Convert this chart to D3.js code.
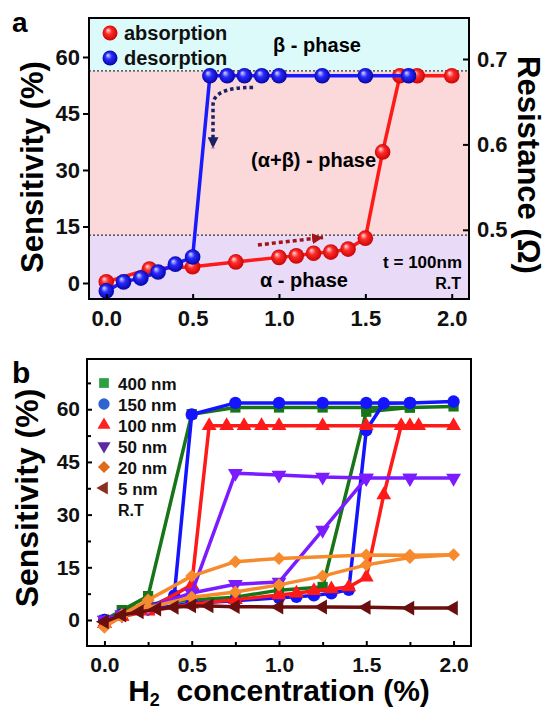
<!DOCTYPE html>
<html lang="en">
<head>
<meta charset="utf-8">
<title>H2 sensitivity</title>
<script src="https://cdn.jsdelivr.net/npm/d3@7"></script>
<style>
  body { margin: 0; background: #fff; }
  svg text { font-family: "Liberation Sans", Arial, Helvetica, sans-serif; font-weight: bold; }
</style>
</head>
<body>
<script>
// ---------- data, panel a (t = 100 nm) ----------
var conc_abs = [0, 0.25, 0.5, 0.75, 1.0, 1.1, 1.2, 1.3, 1.4, 1.5, 1.6, 1.7, 1.8, 2.0];
var sens_abs = [0.3, 3.7, 4.3, 5.6, 6.8, 7.2, 7.9, 8.2, 9.0, 11.9, 34.8, 55, 55, 55];
var conc_des = [0, 0.1, 0.2, 0.3, 0.4, 0.5, 0.6, 0.7, 0.8, 0.9, 1.0, 1.25, 1.5, 1.75];
var sens_des = [-2.1, 0.3, 1.3, 2.9, 5.0, 6.9, 55, 55, 55, 55, 55, 55, 55, 55];
var phase_bounds = [12.7, 56.3];   // alpha / alpha+beta / beta limits
var ticksA_x = [0, 0.5, 1.0, 1.5, 2.0];
var ticksA_y = [0, 15, 30, 45, 60];
var ticksA_r = [0.5, 0.6, 0.7];

// ---------- data, panel b (thickness series) ----------
var thick = ["400 nm", "150 nm", "100 nm", "50 nm", "20 nm", "5 nm"];
var x400 = [0, 0.1, 0.25, 0.5, 0.75, 1.0, 1.25, 1.5, 1.75, 2.0, 1.75, 1.5, 1.25, 1.0, 0.75, 0.5, 0.25, 0.1, 0];
var y400 = [0, 2.8, 4.5, 5.7, 6.5, 8.5, 9.4, 59.3, 60.5, 60.8, 60.5, 60.5, 60.5, 60.5, 60.5, 58.6, 6.8, 2.8, 0];
var x150 = [0, 0.1, 0.25, 0.5, 0.75, 1.0, 1.1, 1.2, 1.3, 1.4, 1.5, 1.6, 1.75, 2.0, 1.75, 1.5, 1.25, 1.0, 0.75, 0.5, 0.4, 0.25, 0.1, 0];
var y150 = [0, 1.5, 3.0, 4.8, 5.5, 6.3, 6.6, 7.0, 7.6, 8.6, 54, 61.7, 61.8, 62.2, 61.8, 61.8, 61.8, 61.8, 61.8, 58.5, 7.0, 3.5, 1.5, 0];
var x100 = [0, 0.1, 0.25, 0.5, 0.75, 1.0, 1.1, 1.2, 1.3, 1.4, 1.5, 1.6, 1.7, 1.75, 1.8, 2.0, 1.5, 1.25, 1.0, 0.9, 0.8, 0.7, 0.6, 0.5, 0.25, 0.1, 0];
var y100 = [-1, 1, 2.5, 4.5, 5.8, 7.1, 7.6, 8.3, 8.8, 9.4, 12.2, 35.6, 55.3, 55.3, 55.3, 55.3, 55.3, 55.3, 55.3, 55.3, 55.3, 55.3, 55.3, 10, 3, 1, -1];
var x50 = [0, 0.1, 0.25, 0.5, 0.75, 1.0, 1.25, 1.5, 1.75, 2.0, 1.75, 1.5, 1.25, 1.0, 0.75, 0.5, 0.25, 0.1, 0];
var y50 = [0, 1.5, 3.5, 7.7, 10.2, 10.8, 25.6, 40.4, 40.4, 40.4, 40.4, 40.4, 40.7, 41.3, 41.8, 7.7, 3.5, 1.5, 0];
var x20 = [0, 0.1, 0.25, 0.5, 0.75, 1.0, 1.25, 1.5, 1.75, 2.0, 1.75, 1.5, 1.0, 0.75, 0.5, 0.25, 0.1, 0];
var y20 = [-2, 1, 3.5, 6.5, 8, 10, 12.5, 15.7, 17.8, 18.6, 18.4, 18.5, 17.5, 16.6, 12.5, 5.7, 1.5, -2];
var x5 = [0, 0.1, 0.2, 0.3, 0.4, 0.5, 0.6, 0.75, 1.0, 1.25, 1.5, 1.75, 2.0];
var y5 = [-0.5, 1.4, 2.3, 3.1, 3.6, 4.0, 4.0, 3.8, 3.7, 3.7, 3.6, 3.4, 3.4];
var ticksB_x = [0, 0.5, 1.0, 1.5, 2.0];
var minorB_x = [0.25, 0.75, 1.25, 1.75];
var ticksB_y = [0, 15, 30, 45, 60];
var minorB_y = [7.5, 22.5, 37.5, 52.5, 67.5];

var seriesX = [x400, x150, x100, x50, x20, x5];
var seriesY = [y400, y150, y100, y50, y20, y5];
var lineCol = ["#177517", "#1414ff", "#ff1a1a", "#7a1cff", "#f68a2c", "#6a0e0e"];
var legCol = ["#2ea043", "#2f63d0", "#ff2222", "#5b2aa3", "#e06a1c", "#8a2e1e"];
var shapes = ["square", "circle", "up", "down", "diamond", "left"];

var font = '"Liberation Sans", Arial, Helvetica, sans-serif';
var svg = d3.select("body").append("svg").attr("width", 546).attr("height", 712);
var defs = svg.append("defs");

function zip(xs, ys) { return xs.map(function(x, i) { return [x, ys[i]]; }); }

function styleAxis(g, size) {
    g.select(".domain").remove();
    g.selectAll("text").attr("font-family", font).attr("font-weight", "bold")
        .attr("font-size", size).attr("fill", "#111");
    g.selectAll("line").attr("stroke", "#000").attr("stroke-width", 2);
}

// ball gradients for panel a
function ball(id, light, mid, dark) {
    var gr = defs.append("radialGradient").attr("id", id)
        .attr("cx", "50%").attr("cy", "50%").attr("r", "55%").attr("fx", "35%").attr("fy", "30%");
    gr.append("stop").attr("offset", "0%").attr("stop-color", light);
    gr.append("stop").attr("offset", "40%").attr("stop-color", mid);
    gr.append("stop").attr("offset", "100%").attr("stop-color", dark);
}
ball("redBall", "#ffe0e0", "#ff2a2a", "#c20000");
ball("blueBall", "#dcdcff", "#2a2aff", "#00009a");

function arrowHead(id, col) {
    defs.append("marker").attr("id", id).attr("viewBox", "0 0 10 10")
        .attr("refX", 10).attr("refY", 5).attr("markerWidth", 11).attr("markerHeight", 11)
        .attr("markerUnits", "userSpaceOnUse").attr("orient", "auto")
        .append("path").attr("d", "M0,0 L10,5 L0,10 Z").attr("fill", col);
}
arrowHead("navyHead", "#1c2066");
arrowHead("redHead", "#a31515");

// =================== panel a ===================
var boxA = {left: 89, right: 469, top: 18, bottom: 299};
var xA = d3.scaleLinear().domain([-0.1, 2.1]).range([boxA.left, boxA.right]);
var yA = d3.scaleLinear().domain([-4.25, 70.35]).range([boxA.bottom, boxA.top]);
var rA = d3.scaleLinear().domain([0.419, 0.748]).range([boxA.bottom, boxA.top]);

var ga = svg.append("g");
var bands = [
    [yA.domain()[0], phase_bounds[0], "#e9dbf8"],
    [phase_bounds[0], phase_bounds[1], "#fbd8d9"],
    [phase_bounds[1], yA.domain()[1], "#dcfafa"]
];
ga.selectAll("rect.band").data(bands).enter().append("rect")
    .attr("x", boxA.left).attr("width", boxA.right - boxA.left)
    .attr("y", function(d) { return yA(d[1]); })
    .attr("height", function(d) { return yA(d[0]) - yA(d[1]); })
    .attr("fill", function(d) { return d[2]; });
ga.selectAll("line.bound").data(phase_bounds).enter().append("line")
    .attr("x1", boxA.left).attr("x2", boxA.right)
    .attr("y1", function(d) { return yA(d); }).attr("y2", function(d) { return yA(d); })
    .attr("stroke", "#333").attr("stroke-width", 1.2).attr("stroke-dasharray", "2,2");

// phase labels
ga.append("text").attr("x", xA(1.22)).attr("y", yA(61.3)).attr("text-anchor", "middle")
    .attr("font-size", 20).text("β - phase");
ga.append("text").attr("x", xA(1.2)).attr("y", yA(30.8)).attr("text-anchor", "middle")
    .attr("font-size", 20).text("(α+β) - phase");
ga.append("text").attr("x", xA(0.89)).attr("y", yA(-1.0)).attr("text-anchor", "start")
    .attr("font-size", 20).text("α - phase");
ga.append("text").attr("x", boxA.right - 7).attr("y", yA(4.0)).attr("text-anchor", "end")
    .attr("font-size", 17).text("t = 100nm");
ga.append("text").attr("x", boxA.right - 8).attr("y", yA(-1.6)).attr("text-anchor", "end")
    .attr("font-size", 16).text("R.T");

// dotted arrows
ga.append("path")
    .attr("d", "M" + xA(0.85) + "," + yA(51.9) + " Q" + xA(0.618) + "," + yA(52) + " " + xA(0.618) + "," + yA(47.2)
        + " L" + xA(0.618) + "," + yA(35.8))
    .attr("fill", "none").attr("stroke", "#1c2066").attr("stroke-width", 3.5)
    .attr("stroke-dasharray", "3.5,3").attr("marker-end", "url(#navyHead)");
ga.append("path")
    .attr("d", "M" + xA(0.878) + "," + yA(10.1) + " L" + xA(1.255) + "," + yA(12.1))
    .attr("fill", "none").attr("stroke", "#a31515").attr("stroke-width", 3.5)
    .attr("stroke-dasharray", "4,3").attr("marker-end", "url(#redHead)");

var lineA = d3.line().x(function(d) { return xA(d[0]); }).y(function(d) { return yA(d[1]); });
var absPts = zip(conc_abs, sens_abs), desPts = zip(conc_des, sens_des);
ga.append("path").attr("d", lineA(absPts)).attr("fill", "none").attr("stroke", "#ff1a1a").attr("stroke-width", 3.5);
ga.selectAll("circle.abs").data(absPts).enter().append("circle")
    .attr("cx", function(d) { return xA(d[0]); }).attr("cy", function(d) { return yA(d[1]); })
    .attr("r", 7.8).attr("fill", "url(#redBall)");
ga.append("path").attr("d", lineA(desPts)).attr("fill", "none").attr("stroke", "#1a1aff").attr("stroke-width", 3.5);
ga.selectAll("circle.des").data(desPts).enter().append("circle")
    .attr("cx", function(d) { return xA(d[0]); }).attr("cy", function(d) { return yA(d[1]); })
    .attr("r", 7.8).attr("fill", "url(#blueBall)");

// legend a
var legA = [["absorption", "url(#redBall)"], ["desorption", "url(#blueBall)"]];
legA.forEach(function(l, i) {
    ga.append("circle").attr("cx", 110).attr("cy", 33 + i * 25).attr("r", 7.5).attr("fill", l[1]);
    ga.append("text").attr("x", 124).attr("y", 40 + i * 25).attr("font-size", 20).attr("fill", "#111").text(l[0]);
});

ga.append("rect").attr("x", boxA.left).attr("y", boxA.top)
    .attr("width", boxA.right - boxA.left).attr("height", boxA.bottom - boxA.top)
    .attr("fill", "none").attr("stroke", "#000").attr("stroke-width", 2);

var axA_l = ga.append("g").attr("transform", "translate(" + boxA.left + ",0)")
    .call(d3.axisLeft(yA).tickValues(ticksA_y).tickSize(6).tickPadding(3));
styleAxis(axA_l, 22);
var axA_b = ga.append("g").attr("transform", "translate(0," + boxA.bottom + ")")
    .call(d3.axisBottom(xA).tickValues(ticksA_x).tickFormat(d3.format(".1f")).tickSize(-5).tickPadding(11));
styleAxis(axA_b, 22);
var axA_r = ga.append("g").attr("transform", "translate(" + boxA.right + ",0)")
    .call(d3.axisRight(rA).tickValues(ticksA_r).tickFormat(d3.format(".1f")).tickSize(-6).tickPadding(8));
styleAxis(axA_r, 22);

ga.append("text").attr("x", 12).attr("y", 32).attr("font-size", 28).text("a");
ga.append("text").attr("transform", "translate(43,167) rotate(-90)").attr("text-anchor", "middle")
    .attr("font-size", 31).text("Sensitivity (%)");
ga.append("text").attr("transform", "translate(518,165) rotate(90)").attr("text-anchor", "middle")
    .attr("font-size", 31).text("Resistance (Ω)");

// =================== panel b ===================
var boxB = {left: 87, right: 471, top: 359, bottom: 646};
var xB = d3.scaleLinear().domain([-0.1, 2.1]).range([boxB.left, boxB.right]);
var yB = d3.scaleLinear().domain([-7.4, 74.3]).range([boxB.bottom, boxB.top]);
var gb = svg.append("g");

function symbolPath(shape, size) {
    var type = {square: d3.symbolSquare, circle: d3.symbolCircle, up: d3.symbolTriangle,
                down: d3.symbolTriangle, diamond: d3.symbolSquare, left: d3.symbolTriangle}[shape];
    return d3.symbol().type(type).size(size)();
}
var rot = {square: 0, circle: 0, up: 0, down: 180, diamond: 45, left: -90};
var symSize = {square: 105, circle: 120, up: 95, down: 95, diamond: 85, left: 95};

var lineB = d3.line().x(function(d) { return xB(d[0]); }).y(function(d) { return yB(d[1]); });
thick.forEach(function(name, s) {
    var pts = zip(seriesX[s], seriesY[s]);
    var g = gb.append("g");
    g.append("path").attr("d", lineB(pts)).attr("fill", "none")
        .attr("stroke", lineCol[s]).attr("stroke-width", 3.5).attr("stroke-linejoin", "round");
    g.selectAll("path.m").data(pts).enter().append("path")
        .attr("d", symbolPath(shapes[s], symSize[shapes[s]]))
        .attr("transform", function(d) {
            return "translate(" + xB(d[0]) + "," + yB(d[1]) + ") rotate(" + rot[shapes[s]] + ")";
        })
        .attr("fill", lineCol[s]);
});

// legend b
thick.forEach(function(name, s) {
    var yy = 383 + s * 21;
    var sz = shapes[s] === "circle" ? 100 : (shapes[s] === "square" ? 95 : 75);
    gb.append("path").attr("d", symbolPath(shapes[s], sz))
        .attr("transform", "translate(104," + yy + ") rotate(" + rot[shapes[s]] + ")")
        .attr("fill", legCol[s]);
    gb.append("text").attr("x", 118).attr("y", yy + 7).attr("font-size", 17).attr("fill", "#111").text(name);
});
gb.append("text").attr("x", 118).attr("y", 383 + 6 * 21 + 7).attr("font-size", 16).attr("fill", "#111").text("R.T");

gb.append("rect").attr("x", boxB.left).attr("y", boxB.top)
    .attr("width", boxB.right - boxB.left).attr("height", boxB.bottom - boxB.top)
    .attr("fill", "none").attr("stroke", "#000").attr("stroke-width", 2);

var axB_l = gb.append("g").attr("transform", "translate(" + boxB.left + ",0)")
    .call(d3.axisLeft(yB).tickValues(ticksB_y).tickSize(-5).tickPadding(7));
styleAxis(axB_l, 21);
var axB_lm = gb.append("g").attr("transform", "translate(" + boxB.left + ",0)")
    .call(d3.axisLeft(yB).tickValues(minorB_y).tickSize(-4).tickFormat(""));
styleAxis(axB_lm, 21);
var axB_b = gb.append("g").attr("transform", "translate(0," + boxB.bottom + ")")
    .call(d3.axisBottom(xB).tickValues(ticksB_x).tickFormat(d3.format(".1f")).tickSize(-5).tickPadding(11));
styleAxis(axB_b, 21);
var axB_bm = gb.append("g").attr("transform", "translate(0," + boxB.bottom + ")")
    .call(d3.axisBottom(xB).tickValues(minorB_x).tickSize(-4).tickFormat(""));
styleAxis(axB_bm, 21);

gb.append("text").attr("x", 12).attr("y", 383).attr("font-size", 30).text("b");
gb.append("text").attr("transform", "translate(38,498) rotate(-90)").attr("text-anchor", "middle")
    .attr("font-size", 32).text("Sensitivity (%)");
var xt = gb.append("text").attr("x", 279).attr("y", 701).attr("text-anchor", "middle").attr("font-size", 30);
xt.append("tspan").text("H");
xt.append("tspan").attr("font-size", 18).attr("dy", 5).text("2");
xt.append("tspan").attr("dy", -5).text("\u00a0 concentration (%)");
</script>
</body>
</html>
